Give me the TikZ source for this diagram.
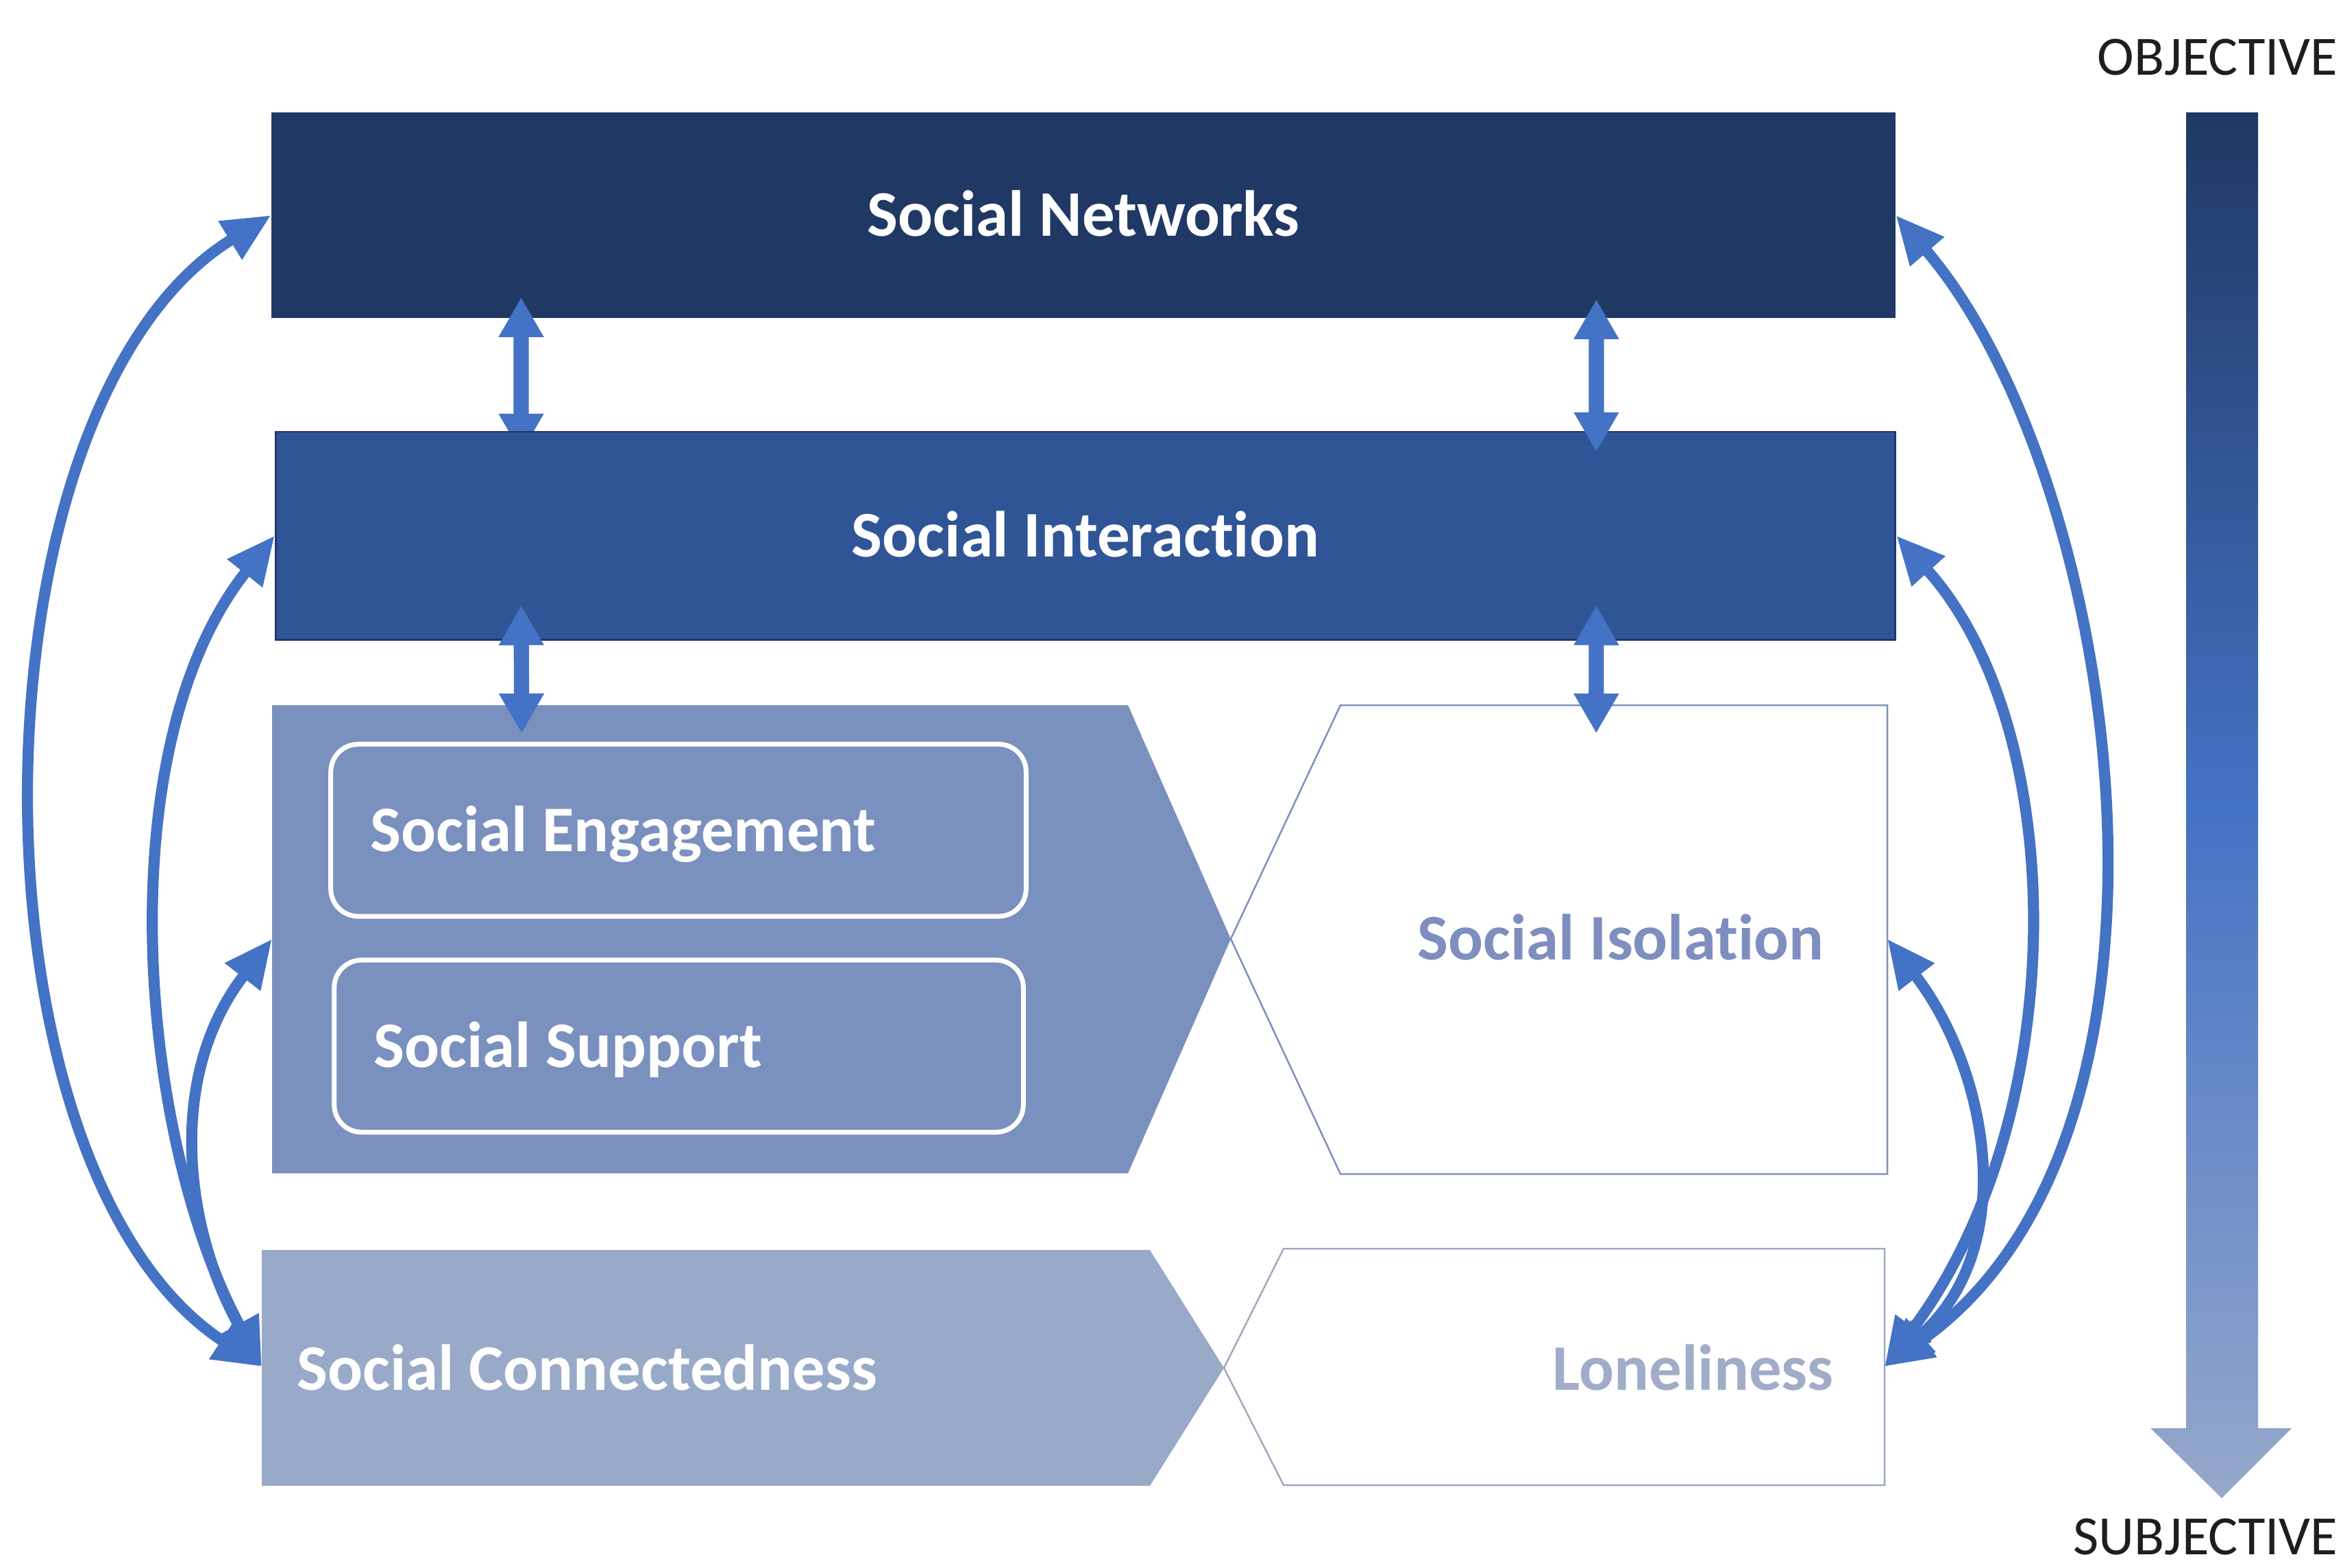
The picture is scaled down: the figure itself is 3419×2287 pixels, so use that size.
\documentclass[tikz,border=0pt]{standalone}
\usepackage{fontspec}
\setmainfont{Carlito}[Ligatures={NoCommon}]
\usetikzlibrary{arrows.meta}
\definecolor{netblue}{RGB}{32,56,100}
\definecolor{interblue}{RGB}{47,85,151}
\definecolor{engfill}{RGB}{122,144,190}
\definecolor{connfill}{RGB}{152,170,200}
\definecolor{arrowblue}{RGB}{68,114,196}
\definecolor{isoline}{RGB}{126,142,190}
\definecolor{loneline}{RGB}{158,168,192}
\definecolor{lonetext}{RGB}{160,172,200}
\definecolor{gradlight}{RGB}{150,168,204}
\definecolor{scaletext}{RGB}{30,30,30}
\pgfdeclarelayer{back}
\pgfsetlayers{back,main}
\tikzstyle{lbl}=[inner sep=0pt, text height=17.4pt, text depth=0pt, font=\bfseries\fontsize{27}{32}\selectfont]
\tikzstyle{netbox}=[lbl, fill=netblue, text=white, minimum width=23.68cm, minimum height=3cm]
\tikzstyle{interbox}=[lbl, fill=interblue, draw=netblue, line width=0.8pt, text=white, minimum width=23.62cm, minimum height=3.03cm]
\tikzstyle{engbox}=[lbl, fill=engfill, draw=white, line width=2pt, rounded corners=0.4cm, text=white, minimum height=2.51cm, inner xsep=0.58cm, align=flush left]
\tikzstyle{scalelbl}=[inner sep=0pt, text=scaletext, font=\fontsize{23}{28}\selectfont, anchor=base east]
\tikzstyle{biarrow}=[draw=arrowblue, line width=4.6pt, {Triangle[length=20pt,width=17.5pt]}-{Triangle[length=20pt,width=17.5pt]}]
\tikzstyle{vbiarrow}=[draw=arrowblue, line width=6.3pt, {Triangle[length=16.5pt,width=17.6pt]}-{Triangle[length=16.5pt,width=17.6pt]}]

\begin{document}
\begin{tikzpicture}[x=0.01cm, y=-0.01cm]
	\useasboundingbox (0,0) rectangle (3419,2287);
	\begin{pgfonlayer}{back}
		\fill[white] (0,0) rectangle (3419,2287);
		\node[netbox] (net) at (1581,314) {Social Networks};
	\end{pgfonlayer}
	\node[interbox] (inter) at (1584,781.5) {Social Interaction};
	\begin{pgfonlayer}{back}
		\draw[vbiarrow] ([xshift=-8.2cm,yshift=0.31cm]net.south) -- ([xshift=-8.23cm,yshift=-0.33cm]inter.north);
	\end{pgfonlayer}
	\draw[vbiarrow] ([xshift=7.48cm,yshift=0.28cm]net.south) -- ([xshift=7.45cm,yshift=-0.31cm]inter.north);

	\fill[engfill] (397,1029) coordinate (eng-top) -- (1646,1029) -- (1796,1370) -- (1646,1712) -- (397,1712) -- cycle;
	\draw[isoline, line width=0.7pt, fill=white] (1796,1370) -- (1956,1029) coordinate (isol-top) -- (2754,1029) -- (2754,1713) -- (1956,1713) -- cycle;
	\fill[connfill] (382,1824) -- (1678,1824) -- (1786,1996) -- (1678,2168) -- (382,2168) -- cycle;
	\draw[loneline, line width=0.7pt, fill=white] (1786,1996) -- (1873,1822) -- (2750,1822) -- (2750,2167) -- (1873,2167) -- cycle;

	\coordinate (chev-w) at (397,1370);
	\coordinate (isol-e) at (2754,1370);
	\coordinate (conn-w) at (382,1994);
	\coordinate (lonely-e) at (2750,1994);

	\node[engbox, text width=8.98cm] (engage) at (990,1211.5) {Social Engagement};
	\node[engbox, text width=8.89cm] (support) at (990.5,1526.5) {Social Support};
	\node[lbl, text=white, anchor=west] (conn) at (433,1998) {Social Connectedness};
	\node[lbl, text=isoline, anchor=east] (isol) at (2662,1370) {Social Isolation};
	\node[lbl, text=lonetext, anchor=east] (lonely) at (2676,1998) {Loneliness};

	\draw[vbiarrow] ([xshift=-8.23cm,yshift=0.51cm]inter.south) -- ([xshift=3.64cm,yshift=-0.41cm]eng-top);
	\draw[vbiarrow] ([xshift=7.45cm,yshift=0.51cm]inter.south) -- ([xshift=3.73cm,yshift=-0.41cm]isol-top);

	\draw[biarrow] (conn-w) .. controls (-60,1705) and (-55,591) .. (net.west);
	\draw[biarrow] (conn-w) .. controls (203,1663) and (154,1092) .. (inter.west);
	\draw[biarrow] (conn-w) .. controls (268,1790) and (243,1569) .. (chev-w);
	\draw[biarrow] (lonely-e) .. controls (3235,1650) and (3090,690) .. (net.east);
	\draw[biarrow] (lonely-e) .. controls (3026,1626) and (3020,1062) .. (inter.east);
	\draw[biarrow] (lonely-e) .. controls (2950,1820) and (2900,1560) .. (isol-e);

	\shade[top color=netblue, bottom color=gradlight, middle color=arrowblue] (3190,164) -- (3295,164) -- (3295,2084) -- (3344,2084) -- (3242,2186) -- (3138,2084) -- (3190,2084) -- cycle;
	\node[scalelbl] (obj) at (3412,109) {OBJECTIVE};
	\node[scalelbl] (subj) at (3412,2268) {SUBJECTIVE};
\end{tikzpicture}
\end{document}
